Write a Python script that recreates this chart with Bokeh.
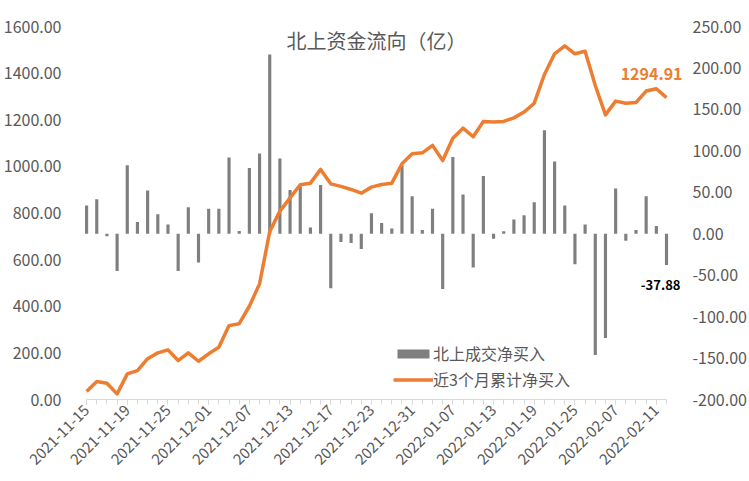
from bokeh.plotting import figure
from bokeh.models import (Range1d, LinearAxis, FixedTicker, NumeralTickFormatter,
                          Legend, LegendItem, Label, ColumnDataSource)
from bokeh.embed import file_html
from bokeh.resources import INLINE
import math

dates = [
    "2021-11-15", "2021-11-16", "2021-11-17", "2021-11-18", "2021-11-19",
    "2021-11-22", "2021-11-23", "2021-11-24", "2021-11-25", "2021-11-26",
    "2021-11-29", "2021-11-30",
    "2021-12-01", "2021-12-02", "2021-12-03", "2021-12-06", "2021-12-07",
    "2021-12-08", "2021-12-09", "2021-12-10", "2021-12-13", "2021-12-14",
    "2021-12-15", "2021-12-16", "2021-12-17", "2021-12-20", "2021-12-21",
    "2021-12-22", "2021-12-23", "2021-12-28", "2021-12-29", "2021-12-30",
    "2021-12-31",
    "2022-01-04", "2022-01-05", "2022-01-06", "2022-01-07", "2022-01-10",
    "2022-01-11", "2022-01-12", "2022-01-13", "2022-01-14", "2022-01-17",
    "2022-01-18", "2022-01-19", "2022-01-20", "2022-01-21", "2022-01-24",
    "2022-01-25", "2022-01-26", "2022-01-27", "2022-01-28",
    "2022-02-07", "2022-02-08", "2022-02-09", "2022-02-10", "2022-02-11",
    "2022-02-14",
]

daily_net = [
    34.0, 41.6, -3.0, -44.9, 82.6, 14.2, 52.1, 23.5, 11.1, -44.9,
    32.0, -34.8, 30.0, 30.0, 91.9, 3.4, 79.4, 96.7, 216.2, 90.7,
    52.8, 57.3, 7.4, 58.9, -65.7, -9.9, -11.1, -18.3, 24.7, 13.0,
    6.2, 82.6, 45.2, 4.6, 30.0, -66.6, 92.7, 47.3, -40.8, 69.7,
    -6.2, 3.0, 17.1, 22.3, 38.0, 124.9, 87.1, 34.0, -36.8, 11.1,
    -146.2, -125.7, 54.5, -8.6, 4.6, 45.2, 9.4, -37.88,
]

cum_3m = [
    34, 77, 70, 24, 110, 124, 175, 200, 213, 167,
    200, 164, 196, 224, 317, 325, 400, 496, 720, 808,
    865, 921, 928, 987, 925, 914, 901, 885, 911, 922,
    928, 1011, 1054, 1058, 1090, 1025, 1121, 1164, 1127, 1193,
    1190, 1193, 1208, 1233, 1271, 1394, 1483, 1517, 1483, 1494,
    1347, 1221, 1280, 1271, 1274, 1323, 1333, 1294.91,
]

left_ticks = [0, 200, 400, 600, 800, 1000, 1200, 1400, 1600]
right_ticks = [-200, -150, -100, -50, 0, 50, 100, 150, 200, 250]

title_text = "北上资金流向（亿）"
bar_name = "北上成交净买入"
line_name = "近3个月累计净买入"

FONT = "Noto Sans CJK SC"
GRAY_TXT = "#595959"
ORANGE = "#ED7D31"
BAR = "#7F7F7F"

n = len(dates)
xs = list(range(n))
src = ColumnDataSource(dict(x=xs, d=dates, net=daily_net, cum=cum_3m))

p = figure(width=749, height=481, output_backend="svg", toolbar_location=None,
           x_range=Range1d(-0.5, n + 0.67), y_range=Range1d(0, 1600),
           min_border_left=78, min_border_right=61, min_border_top=26,
           min_border_bottom=82)
p.outline_line_color = None
p.xgrid.visible = False
p.ygrid.visible = False
p.background_fill_color = "white"
p.border_fill_color = "white"

p.extra_y_ranges = {"bars": Range1d(-200, 250)}

# bars (right axis)
bars = p.vbar(x="x", top="net", bottom=0, width=0.31, source=src,
              y_range_name="bars", fill_color=BAR, line_color=None)
# line (left axis)
line = p.line(x="x", y="cum", source=src, line_color=ORANGE, line_width=3.5,
              line_join="round")

# x axis
xa = p.xaxis[0]
xa.ticker = FixedTicker(ticks=list(range(0, n - 1, 4)), minor_ticks=xs)
xa.major_label_overrides = {i: dates[i] for i in range(0, n - 1, 4)}
xa.major_label_orientation = math.pi / 4
xa.axis_line_color = "#D9D9D9"
xa.major_tick_line_color = "#D9D9D9"
xa.minor_tick_line_color = "#D9D9D9"
xa.major_tick_out = 5
xa.major_tick_in = 0
xa.minor_tick_out = 5
xa.minor_tick_in = 0
xa.bounds = (0, n - 1)
xa.major_label_text_font = FONT
xa.major_label_text_font_size = "15px"
xa.major_label_text_color = GRAY_TXT
xa.major_label_standoff = 3

# left axis
ya = p.yaxis[0]
ya.ticker = FixedTicker(ticks=left_ticks)
ya.formatter = NumeralTickFormatter(format="0.00")
ya.axis_line_color = None
ya.major_tick_line_color = None
ya.minor_tick_line_color = None
ya.major_label_text_font = FONT
ya.major_label_text_font_size = "16px"
ya.major_label_text_color = GRAY_TXT
ya.major_label_standoff = 14

# right axis
ra = LinearAxis(y_range_name="bars", ticker=FixedTicker(ticks=right_ticks),
                formatter=NumeralTickFormatter(format="0.00"))
ra.axis_line_color = None
ra.major_tick_line_color = None
ra.minor_tick_line_color = None
ra.major_label_text_font = FONT
ra.major_label_text_font_size = "16px"
ra.major_label_text_color = GRAY_TXT
ra.major_label_standoff = 3
p.add_layout(ra, "right")

# title inside plot area
p.add_layout(Label(x=28.5, y=1540, text=title_text, text_align="center",
                   text_baseline="middle", text_font=FONT,
                   text_font_size="20px", text_color=GRAY_TXT))

# data labels for the last point
p.add_layout(Label(x=xs[-1], y=cum_3m[-1], text="%.2f" % cum_3m[-1],
                   text_align="right", text_baseline="middle",
                   x_offset=16, y_offset=24, text_font=FONT,
                   text_font_size="16px", text_font_style="bold",
                   text_color=ORANGE))
p.add_layout(Label(x=xs[-1], y=daily_net[-1], y_range_name="bars",
                   text="%.2f" % daily_net[-1],
                   text_align="right", text_baseline="middle",
                   x_offset=14, y_offset=-20, text_font=FONT,
                   text_font_size="13px", text_font_style="bold",
                   text_color="black"))

legend = Legend(items=[LegendItem(label=bar_name, renderers=[bars]),
                       LegendItem(label=line_name, renderers=[line])],
                location=(312, 8), orientation="vertical",
                border_line_color=None, background_fill_alpha=0,
                padding=0, margin=0, spacing=2, glyph_width=40,
                glyph_height=11, label_height=20, label_standoff=0,
                label_text_font=FONT, label_text_font_size="16px",
                label_text_color=GRAY_TXT)
p.add_layout(legend, "center")

open("out.html", "w").write(file_html(p, INLINE))
